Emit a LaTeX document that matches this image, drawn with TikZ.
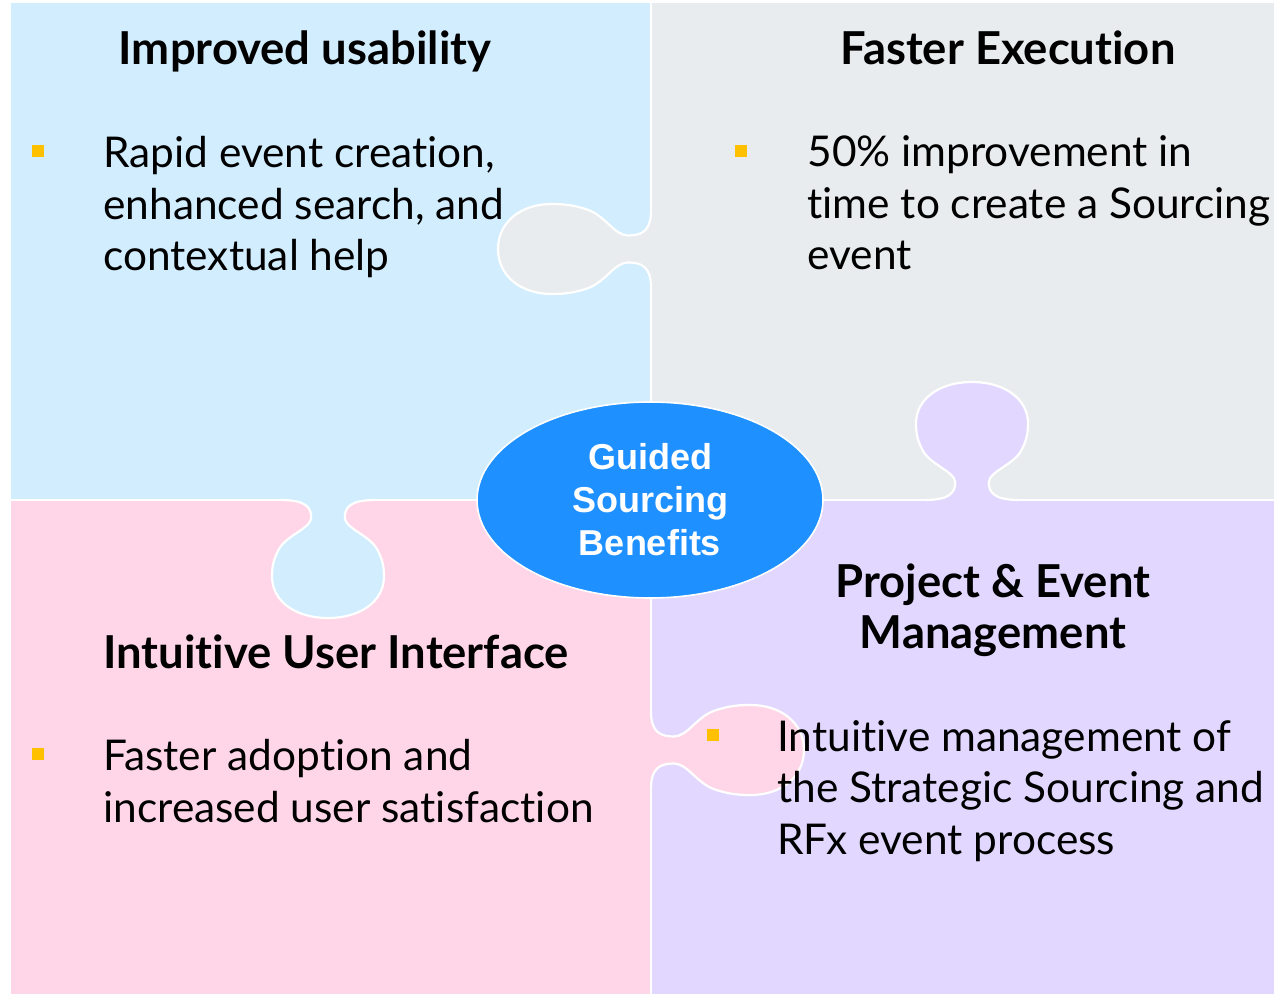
\documentclass[tikz,border=0pt]{standalone}
\usepackage{fontspec}
\setmainfont[Ligatures=NoCommon]{Lato}
\newfontfamily\corefont{Liberation Sans}
\usetikzlibrary{shapes.geometric}
\definecolor{gsblue}{HTML}{D1EDFE}
\definecolor{gsgray}{HTML}{E8ECEE}
\definecolor{gspink}{HTML}{FFD6E8}
\definecolor{gslilac}{HTML}{E2D8FF}
\definecolor{gscore}{HTML}{1E90FF}
\definecolor{gsbullet}{HTML}{FFC000}

\begin{document}
\begin{tikzpicture}[x=0.5pt,y=-0.5pt,
  seam/.style={white,line width=1.1pt},
  head/.style={font=\bfseries\fontsize{22.7}{25.5}\selectfont,inner sep=0pt,anchor=base},
  body/.style={font=\fontsize{21.2}{25.75}\selectfont,align=left,anchor=base west,inner sep=0pt},
  bullet/.style={fill=gsbullet,minimum size=6pt,inner sep=0pt}]
  \useasboundingbox (0,0) rectangle (1274,994);
  \fill[white] (0,0) rectangle (1274,994);
  \foreach \c/\xa/\ya/\xb/\yb in {gsblue/11/3/651/500,gsgray/651/3/1274/500,gspink/11/500/651/994,gslilac/651/500/1274/994}
    \fill[\c] (\xa,\ya) rectangle (\xb,\yb);
  \draw[seam] (651,3) -- (651,994);
  \draw[seam] (11,500) -- (1274,500);
  % puzzle tabs
  \foreach \c/\px/\py/\r/\l/\w in {gsgray/651/249/180/153/45,gsblue/328/500/-90/118/56,gslilac/972/500/90/118/56,gspink/651/750/0/153/45} {
    \begin{scope}[shift={(\px,\py)},rotate=\r,xscale=\l,yscale=\w]
      \fill[\c] (-0.03,-0.85) -- (0,-0.85) .. controls (0,-0.4) and (0.06,-0.3) .. (0.15,-0.3)
        .. controls (0.24,-0.3) and (0.3,-0.75) .. (0.42,-0.88)
        .. controls (0.5,-0.97) and (0.56,-1) .. (0.65,-1)
        .. controls (0.85,-1) and (1,-0.6) .. (1,0)
        .. controls (1,0.6) and (0.85,1) .. (0.65,1)
        .. controls (0.56,1) and (0.5,0.97) .. (0.42,0.88)
        .. controls (0.3,0.75) and (0.24,0.3) .. (0.15,0.3)
        .. controls (0.06,0.3) and (0,0.4) .. (0,0.85) -- (-0.03,0.85) -- cycle;
      \draw[seam] (0,-0.85) .. controls (0,-0.4) and (0.06,-0.3) .. (0.15,-0.3)
        .. controls (0.24,-0.3) and (0.3,-0.75) .. (0.42,-0.88)
        .. controls (0.5,-0.97) and (0.56,-1) .. (0.65,-1)
        .. controls (0.85,-1) and (1,-0.6) .. (1,0)
        .. controls (1,0.6) and (0.85,1) .. (0.65,1)
        .. controls (0.56,1) and (0.5,0.97) .. (0.42,0.88)
        .. controls (0.3,0.75) and (0.24,0.3) .. (0.15,0.3)
        .. controls (0.06,0.3) and (0,0.4) .. (0,0.85);
    \end{scope}
  }
  \node[ellipse,fill=gscore,draw=white,line width=0.8pt,minimum width=173pt,minimum height=98pt,inner sep=0pt,
    text=white,align=center,font=\corefont\bfseries\fontsize{18}{21.5}\selectfont] (core) at (650,500)
    {Guided\\Sourcing\\Benefits};
  \node[head] (usab) at (305,65) {Improved usability};
  \node[head] (exec) at (1008,65) {Faster Execution};
  \node[head] (ui) at (336,668) {Intuitive User Interface};
  \node[head,align=center] (pem) at (993,648) {Project \& Event\\Management};
  \node[bullet] (bul1) at (38,151) {};
  \node[bullet] (bul2) at (741,151) {};
  \node[bullet] (bul3) at (38,754) {};
  \node[bullet] (bul4) at (713,735) {};
  \node[body] (txt1) at (103,271) {Rapid event creation,\\enhanced search, and\\contextual help};
  \node[body] (txt2) at (807,270) {50\% improvement in\\time to create a Sourcing\\event};
  \node[body] (txt3) at (103,822) {Faster adoption and\\increased user satisfaction};
  \node[body] (txt4) at (777,854) {Intuitive management of\\the Strategic Sourcing and\\RFx event process};
\end{tikzpicture}
\end{document}
